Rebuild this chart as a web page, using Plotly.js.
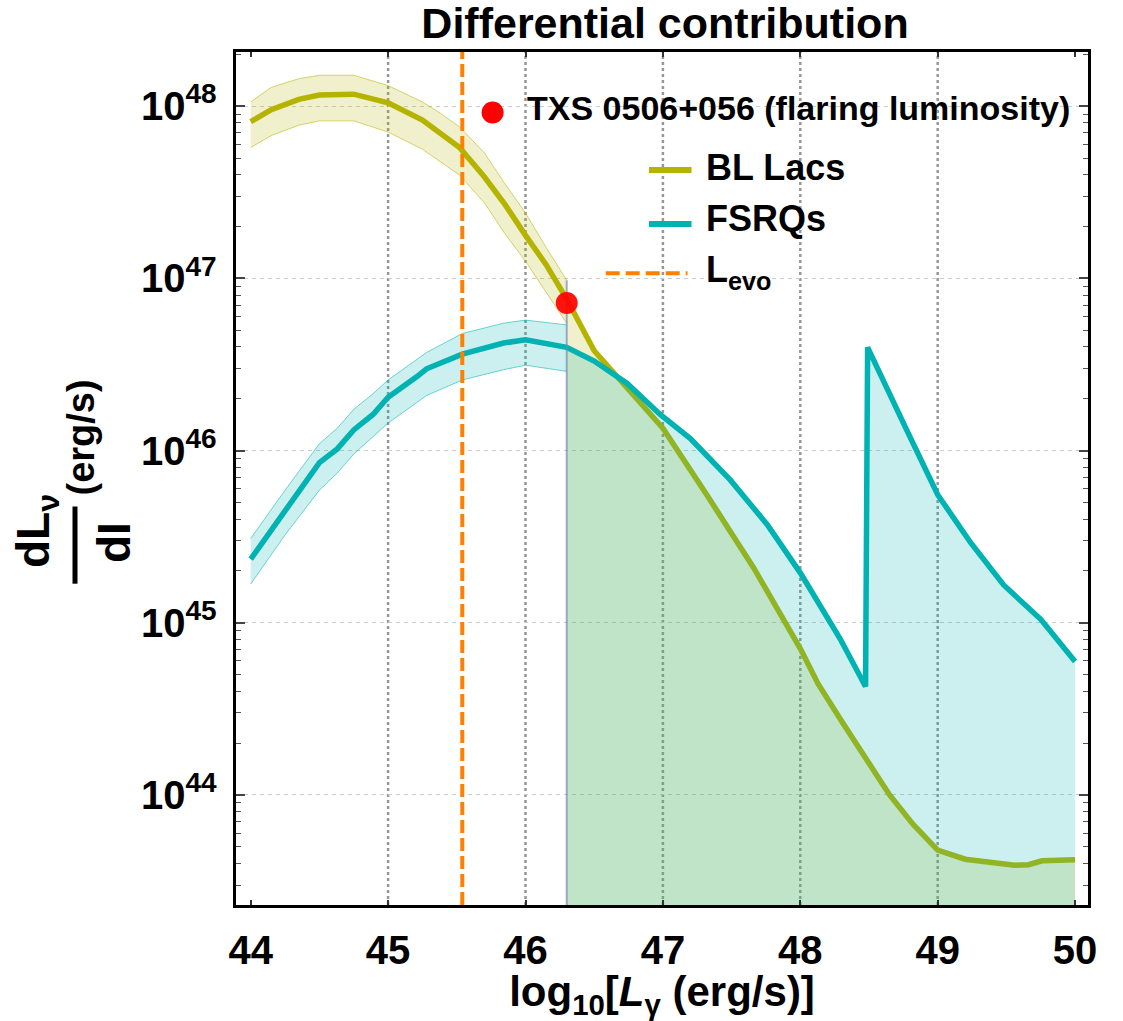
<!DOCTYPE html>
<html>
<head>
<meta charset="utf-8">
<script src="https://cdn.plot.ly/plotly-3.0.1.min.js"></script>
<style>html,body{margin:0;padding:0;background:#fff;}</style>
</head>
<body>
<div id="chart" style="width:1123px;height:1021px;"></div>
<script>
// ---------------- data (x = log10 L_gamma, y given as log10 of dL_nu/dI) ----------------
const blLacX   = [44.0, 44.15, 44.35, 44.5, 44.75, 45.0, 45.25, 45.38, 45.52, 45.7, 45.85, 46.0, 46.15, 46.3, 46.5, 46.7, 47.0, 47.33, 47.66, 48.0, 48.13, 48.3, 48.48, 48.65, 48.82, 49.0, 49.2, 49.4, 49.56, 49.66, 49.76, 50.0];
const blLacLog = [47.91, 47.98, 48.04, 48.065, 48.07, 48.02, 47.92, 47.84, 47.76, 47.59, 47.43, 47.25, 47.08, 46.88, 46.58, 46.40, 46.13, 45.73, 45.32, 44.85, 44.645, 44.43, 44.215, 44.0, 43.83, 43.68, 43.627, 43.605, 43.592, 43.595, 43.618, 43.624];

const blBandX        = [44.0, 44.15, 44.35, 44.5, 44.75, 45.0, 45.25, 45.38, 45.52, 45.7, 45.85, 46.0, 46.15, 46.3];
const blBandUpperLog = [48.025, 48.11, 48.16, 48.18, 48.18, 48.12, 48.025, 47.96, 47.88, 47.73, 47.55, 47.38, 47.18, 46.99];
const blBandLowerLog = [47.76, 47.83, 47.89, 47.915, 47.915, 47.85, 47.75, 47.68, 47.60, 47.44, 47.26, 47.10, 46.92, 46.74];

const fsrqX   = [44.0, 44.25, 44.5, 44.63, 44.75, 44.89, 45.0, 45.21, 45.28, 45.54, 45.69, 45.84, 46.0, 46.13, 46.2, 46.3, 46.5, 46.74, 46.98, 47.2, 47.49, 47.76, 48.0, 48.29, 48.475, 48.49, 48.78, 49.0, 49.24, 49.48, 49.75, 50.0];
const fsrqLog = [45.37, 45.65, 45.93, 46.01, 46.12, 46.21, 46.31, 46.43, 46.475, 46.56, 46.59, 46.625, 46.643, 46.625, 46.62, 46.60, 46.52, 46.39, 46.21, 46.07, 45.83, 45.57, 45.29, 44.907, 44.63, 46.60, 46.11, 45.744, 45.465, 45.22, 45.02, 44.775];

const fsrqBandX        = [44.0, 44.25, 44.5, 44.63, 44.75, 44.89, 45.0, 45.21, 45.28, 45.54, 45.69, 45.84, 46.0, 46.13, 46.2, 46.3];
const fsrqBandUpperLog = [45.49, 45.77, 46.04, 46.13, 46.24, 46.33, 46.41, 46.53, 46.57, 46.68, 46.71, 46.74, 46.758, 46.745, 46.74, 46.73];
const fsrqBandLowerLog = [45.225, 45.51, 45.77, 45.87, 45.98, 46.08, 46.16, 46.28, 46.32, 46.41, 46.44, 46.47, 46.496, 46.48, 46.475, 46.46];

const txsX   = [46.30];
const txsLog = [46.857];

const lEvo      = 45.54;   // log10 L_evo
const fillStart = 46.3;    // start of the filled region

const xTickVals = [44, 45, 46, 47, 48, 49, 50];
const xGridVals = [45, 46, 47, 48, 49];

const legendLabels = ['TXS 0506+056 (flaring luminosity)', 'BL Lacs', 'FSRQs', 'L<sub>evo</sub>'];

// ---------------- styling ----------------
const FONT = 'Liberation Sans, Arial, Helvetica, sans-serif';
const OLIVE = 'rgb(180,180,0)';
const TEAL = 'rgb(0,178,178)';
const ORANGE = 'rgb(255,128,0)';
const xRange = [43.893, 50.094];
const yRange = [43.361, 48.315];

const pow10 = a => a.map(v => Math.pow(10, v));
const sel = (xs, ys, cond) => {
  const ox = [], oy = [];
  xs.forEach((x, i) => { if (cond(x)) { ox.push(x); oy.push(ys[i]); } });
  return [ox, oy];
};
const [blFillX, blFillLog] = sel(blLacX, blLacLog, x => x >= fillStart);
const [fsFillX, fsFillLog] = sel(fsrqX, fsrqLog, x => x >= fillStart);

const base = {mode: 'lines', hoverinfo: 'skip', showlegend: false};
const traces = [
  Object.assign({}, base, {x: blBandX, y: pow10(blBandLowerLog), line: {color: 'rgba(180,180,0,0.55)', width: 1}}),
  Object.assign({}, base, {x: blBandX, y: pow10(blBandUpperLog), line: {color: 'rgba(180,180,0,0.55)', width: 1},
    fill: 'tonexty', fillcolor: 'rgba(180,180,0,0.2)'}),
  Object.assign({}, base, {x: fsrqBandX, y: pow10(fsrqBandLowerLog), line: {color: 'rgba(0,178,178,0.55)', width: 1}}),
  Object.assign({}, base, {x: fsrqBandX, y: pow10(fsrqBandUpperLog), line: {color: 'rgba(0,178,178,0.55)', width: 1},
    fill: 'tonexty', fillcolor: 'rgba(0,178,178,0.2)'}),
  Object.assign({}, base, {x: blFillX, y: pow10(blFillLog), mode: 'none', fill: 'tozeroy', fillcolor: 'rgba(180,180,0,0.2)'}),
  Object.assign({}, base, {x: blLacX, y: pow10(blLacLog), name: legendLabels[1], line: {color: OLIVE, width: 5.5}}),
  Object.assign({}, base, {x: fsFillX, y: pow10(fsFillLog), mode: 'none', fill: 'tozeroy', fillcolor: 'rgba(0,178,178,0.2)'}),
  Object.assign({}, base, {x: fsrqX, y: pow10(fsrqLog), name: legendLabels[2], line: {color: TEAL, width: 5.5}}),
  Object.assign({}, base, {x: [fillStart, fillStart], y: [Math.pow(10, blBandUpperLog[blBandUpperLog.length - 1]), Math.pow(10, yRange[0])],
    line: {color: 'rgba(120,140,175,0.7)', width: 2}}),
  {x: txsX, y: pow10(txsLog), mode: 'markers', name: legendLabels[0], hoverinfo: 'skip', showlegend: false,
    marker: {color: 'rgba(255,0,0,0.92)', size: 22, line: {width: 0}}}
];

// paper coordinate helpers (plot area 236..1088 x 52..905 px)
const PL = 236, PR = 1088, PT = 52, PB = 905;
const px = v => (v - PL) / (PR - PL);
const py = v => (PB - v) / (PB - PT);

const shapes = [];
xGridVals.forEach(v => shapes.push({type: 'line', xref: 'x', yref: 'paper', x0: v, x1: v, y0: 0, y1: 1, layer: 'below',
  line: {color: 'rgba(140,140,140,0.9)', width: 2.5, dash: 'dot'}}));
shapes.push({type: 'line', xref: 'x', yref: 'paper', x0: lEvo, x1: lEvo, y0: 0, y1: 1, layer: 'above',
  line: {color: ORANGE, width: 4, dash: '13px,5px'}});
// legend symbols
shapes.push({type: 'circle', xref: 'paper', yref: 'paper', xsizemode: 'pixel', ysizemode: 'pixel',
  xanchor: px(492.6), yanchor: py(112.5), x0: -11, x1: 11, y0: -11, y1: 11, fillcolor: 'rgb(255,0,0)', line: {width: 0}});
shapes.push({type: 'line', xref: 'paper', yref: 'paper', x0: px(649), x1: px(691.5), y0: py(170), y1: py(170), line: {color: OLIVE, width: 6}});
shapes.push({type: 'line', xref: 'paper', yref: 'paper', x0: px(649), x1: px(691.5), y0: py(224), y1: py(224), line: {color: TEAL, width: 6}});
shapes.push({type: 'line', xref: 'paper', yref: 'paper', x0: px(605.7), x1: px(687.5), y0: py(273.3), y1: py(273.3), line: {color: ORANGE, width: 4, dash: '14px,6px'}});
// fraction bar of the y label
shapes.push({type: 'line', xref: 'paper', yref: 'paper', x0: px(75), x1: px(75), y0: py(583.7), y1: py(506.5), line: {color: '#000', width: 5}});

const bold = (size) => ({family: FONT, size: size, color: '#000', weight: 'bold'});
const ann = (text, x, y, size, xa, extra) => Object.assign({text: text, xref: 'paper', yref: 'paper', x: x, y: y,
  xanchor: xa || 'left', yanchor: 'middle', showarrow: false, font: bold(size)}, extra || {});

const annotations = [
  ann(legendLabels[0], px(525), py(108), 34),
  ann(legendLabels[1], px(704), py(167), 36),
  ann(legendLabels[2], px(704), py(219), 36),
  ann(legendLabels[3], px(704), py(272), 36),
  ann('dL<sub>ν</sub>', px(36), py(531), 46, 'center', {textangle: -90}),
  ann('dI', px(114), py(542), 46, 'center', {textangle: -90}),
  ann('(erg/s)', px(80), py(437.5), 38, 'center', {textangle: -90})
];

const layout = {
  width: 1123, height: 1021,
  margin: {l: PL, r: 1123 - PR, t: PT, b: 1021 - PB, pad: 0},
  paper_bgcolor: '#fff', plot_bgcolor: '#fff',
  font: {family: FONT, color: '#000', size: 30},
  showlegend: false,
  title: {text: 'Differential contribution', font: bold(43), x: px(665), xref: 'paper', xanchor: 'center',
    y: 1 - 23 / 1021, yref: 'container', yanchor: 'middle'},
  xaxis: {range: xRange, tickvals: xTickVals, ticktext: xTickVals.map(String), ticks: 'inside', ticklen: 5,
    tickwidth: 1.5, tickcolor: '#333', showgrid: false, zeroline: false, showline: true, linewidth: 3, linecolor: '#000',
    mirror: 'allticks', tickfont: bold(40), ticklabelstandoff: 8,
    title: {text: 'log<sub>10</sub>[<i>L</i><sub>γ</sub> (erg/s)]', font: bold(42), standoff: 8}},
  yaxis: {type: 'log', range: yRange, dtick: 1, exponentformat: 'power', ticks: 'inside', ticklen: 9, tickwidth: 1.5,
    tickcolor: '#444', minor: {dtick: 'D1', ticks: 'inside', ticklen: 5, tickwidth: 1.2, tickcolor: '#555', showgrid: false},
    showgrid: true, gridcolor: '#cccccc', gridwidth: 1, griddash: '4px,4px', zeroline: false, showline: true, linewidth: 3,
    linecolor: '#000', mirror: 'allticks', tickfont: bold(32), ticklabelstandoff: 10},
  shapes: shapes,
  annotations: annotations
};

Plotly.newPlot('chart', traces, layout, {displayModeBar: false}).then(gd => {
  // mirror each text's CSS font size into an explicit attribute (no visual change)
  gd.querySelectorAll('text, tspan').forEach(t => {
    const fs = t.style.fontSize || window.getComputedStyle(t).fontSize;
    if (fs) t.setAttribute('font-size', parseFloat(fs));
  });
});
</script>
</body>
</html>
